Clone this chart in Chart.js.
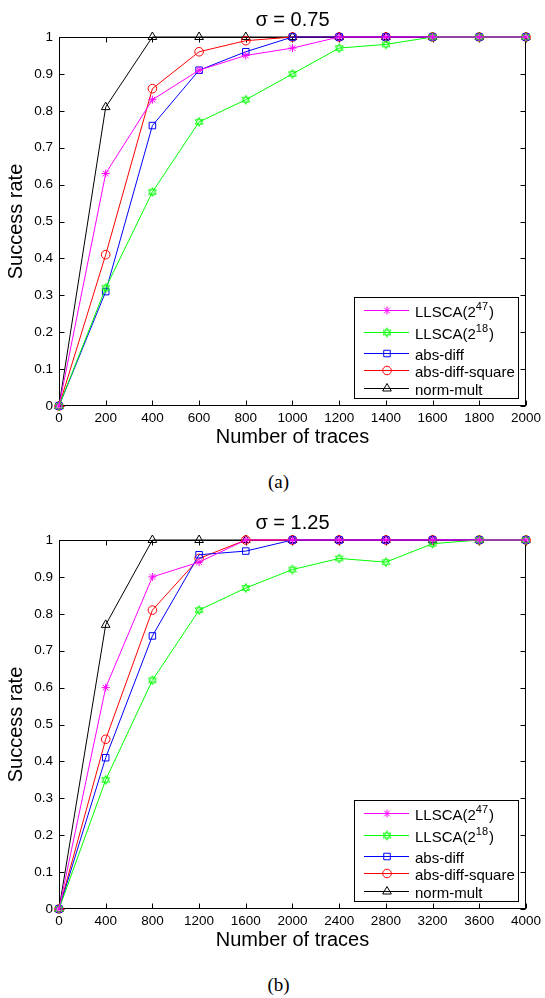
<!DOCTYPE html>
<html lang="en">
<head>
<meta charset="UTF-8">
<title>Success rate vs number of traces</title>
<script src="https://cdn.jsdelivr.net/npm/chart.js"></script>
<style>
  body { margin: 0; background: #fff; width: 545px; height: 998px; position: relative; overflow: hidden; }
  .panel { position: absolute; left: 0; }
  .caption { position: absolute; left: 6px; width: 545px; text-align: center;
             font-family: "Liberation Serif", "Times New Roman", serif; font-size: 19px; line-height: 22px; }
</style>
</head>
<body>

<canvas id="chartA" class="panel" width="545" height="453" style="top:0px"></canvas>
<div class="caption" style="top:471px">(a)</div>
<canvas id="chartB" class="panel" width="545" height="453" style="top:503px"></canvas>
<div class="caption" style="top:974px">(b)</div>

<script>
// ---- data ----
const seriesNames = ['LLSCA(2^47)', 'LLSCA(2^18)', 'abs-diff', 'abs-diff-square', 'norm-mult'];

// (a) sigma = 0.75
const tracesA      = [0, 200, 400, 600, 800, 1000, 1200, 1400, 1600, 1800, 2000];
const llsca47A     = [0, 0.63, 0.83, 0.91, 0.95, 0.97, 1, 1, 1, 1, 1];
const llsca18A     = [0, 0.32, 0.58, 0.77, 0.83, 0.90, 0.97, 0.98, 1, 1, 1];
const absDiffA     = [0, 0.31, 0.76, 0.91, 0.96, 1, 1, 1, 1, 1, 1];
const absDiffSqA   = [0, 0.41, 0.86, 0.96, 0.99, 1, 1, 1, 1, 1, 1];
const normMultA    = [0, 0.81, 1, 1, 1, 1, 1, 1, 1, 1, 1];

// (b) sigma = 1.25
const tracesB      = [0, 400, 800, 1200, 1600, 2000, 2400, 2800, 3200, 3600, 4000];
const llsca47B     = [0, 0.60, 0.90, 0.94, 1, 1, 1, 1, 1, 1, 1];
const llsca18B     = [0, 0.35, 0.62, 0.81, 0.87, 0.92, 0.95, 0.94, 0.99, 1, 1];
const absDiffB     = [0, 0.41, 0.74, 0.96, 0.97, 1, 1, 1, 1, 1, 1];
const absDiffSqB   = [0, 0.46, 0.81, 0.95, 1, 1, 1, 1, 1, 1, 1];
const normMultB    = [0, 0.77, 1, 1, 1, 1, 1, 1, 1, 1, 1];

const yTicks = [0, 0.1, 0.2, 0.3, 0.4, 0.5, 0.6, 0.7, 0.8, 0.9, 1];

// ---- styles ----
const seriesColors = ['#ff00ff', '#00ff00', '#0000ff', '#ff0000', '#000000'];

function hexagram(color, r) {
    const c = document.createElement('canvas');
    const s = Math.ceil(2 * r + 3);
    c.width = s; c.height = s;
    const g = c.getContext('2d');
    g.strokeStyle = color;
    g.lineWidth = 0.9;
    const cx = s / 2, cy = s / 2;
    [-Math.PI / 2, Math.PI / 2].forEach(a0 => {
        g.beginPath();
        for (let k = 0; k < 3; k++) {
            const a = a0 + k * 2 * Math.PI / 3;
            const px = cx + r * Math.cos(a), py = cy + r * Math.sin(a);
            if (k === 0) g.moveTo(px, py); else g.lineTo(px, py);
        }
        g.closePath();
        g.stroke();
    });
    return c;
}

const seriesMarkers = [
    { style: 'star', radius: 4 },
    { style: hexagram('#00ff00', 4.5), radius: 5 },
    { style: 'rect', radius: 4.6 },
    { style: 'circle', radius: 4.3 },
    { style: 'triangle', radius: 5 }
];

Chart.defaults.font.family = '"Liberation Sans", Arial, sans-serif';
Chart.defaults.color = '#000';

// axes box with inward tick marks on all four sides (matlab look)
const framePlugin = {
    id: 'frame',
    beforeDatasetsDraw(chart) {
        const { ctx, chartArea: a, scales: { x, y } } = chart;
        const L = Math.round(a.left) + 0.5, R = Math.round(a.right) - 0.5;
        const T = Math.round(a.top) + 0.5, B = Math.round(a.bottom) - 0.5;
        ctx.save();
        ctx.strokeStyle = '#000';
        ctx.lineWidth = 1;
        ctx.beginPath();
        x.ticks.forEach(t => {
            const px = Math.round(x.getPixelForValue(t.value)) + 0.5;
            ctx.moveTo(px, B); ctx.lineTo(px, B - 5);
            ctx.moveTo(px, T); ctx.lineTo(px, T + 5);
        });
        y.ticks.forEach(t => {
            const py = Math.round(y.getPixelForValue(t.value)) + 0.5;
            ctx.moveTo(L, py); ctx.lineTo(L + 5, py);
            ctx.moveTo(R, py); ctx.lineTo(R - 5, py);
        });
        ctx.stroke();
        ctx.strokeRect(L, T, R - L, B - T);
        ctx.restore();
    }
};

// legend box in the lower right corner
const legendPlugin = {
    id: 'matLegend',
    afterDatasetsDraw(chart) {
        const { ctx, chartArea: a } = chart;
        const w = 164, h = 101;
        const right = Math.round(a.right) - 8, bottom = Math.round(a.bottom) - 8;
        const left = right - w, top = bottom - h;
        const rows = [13, 35, 56, 73, 91];
        const font = '15px "Liberation Sans", Arial, sans-serif';
        ctx.save();
        ctx.fillStyle = '#fff';
        ctx.fillRect(left, top, w, h);
        ctx.strokeStyle = '#000';
        ctx.lineWidth = 1;
        ctx.strokeRect(left + 0.5, top + 0.5, w, h);
        chart.data.datasets.forEach((ds, i) => {
            const yy = top + rows[i] + 0.5;
            ctx.strokeStyle = ds.borderColor;
            ctx.beginPath();
            ctx.moveTo(left + 10, yy);
            ctx.lineTo(left + 55, yy);
            ctx.stroke();
            ctx.fillStyle = 'rgba(0,0,0,0)';
            Chart.helpers.drawPoint(ctx, {
                pointStyle: ds.pointStyle, radius: ds.pointRadius, rotation: 0, borderWidth: 1
            }, left + 33, yy);
            // label, with "^" for superscript
            const parts = seriesNames[i].match(/^([^\^]*)(?:\^(\d+))?(.*)$/);
            ctx.fillStyle = '#000';
            ctx.textBaseline = 'middle';
            ctx.textAlign = 'left';
            let tx = left + 61;
            ctx.font = font;
            ctx.fillText(parts[1], tx, yy + 2);
            tx += ctx.measureText(parts[1]).width;
            if (parts[2]) {
                ctx.font = '11px "Liberation Sans", Arial, sans-serif';
                ctx.fillText(parts[2], tx, yy - 4);
                tx += ctx.measureText(parts[2]).width + 1;
                ctx.font = font;
                ctx.fillText(parts[3], tx, yy + 2);
            }
        });
        ctx.restore();
    }
};

function makePanel(id, titleText, xs, ysList, xStep) {
    const datasets = ysList.map((ys, i) => ({
        label: seriesNames[i],
        data: xs.map((x, k) => ({ x: x, y: ys[k] })),
        borderColor: seriesColors[i],
        backgroundColor: 'rgba(0,0,0,0)',
        borderWidth: 1,
        pointStyle: seriesMarkers[i].style,
        pointRadius: seriesMarkers[i].radius,
        pointHoverRadius: seriesMarkers[i].radius,
        pointBorderColor: seriesColors[i],
        pointBackgroundColor: 'rgba(0,0,0,0)',
        pointBorderWidth: 1,
        tension: 0,
        clip: false
    }));

    return new Chart(document.getElementById(id), {
        type: 'line',
        data: { datasets: datasets },
        options: {
            responsive: false,
            animation: false,
            devicePixelRatio: 1,
            layout: { padding: { left: 0, right: 16, top: 0, bottom: 0 } },
            plugins: {
                legend: { display: false },
                tooltip: { enabled: false },
                title: {
                    display: true,
                    text: titleText,
                    fullSize: false,
                    color: '#000',
                    font: { size: 20, weight: 'normal' },
                    padding: { top: 8, bottom: 5 }
                }
            },
            scales: {
                x: {
                    type: 'linear',
                    min: xs[0],
                    max: xs[xs.length - 1],
                    grid: { display: false, drawTicks: false },
                    border: { display: false },
                    ticks: {
                        stepSize: xStep,
                        autoSkip: false,
                        maxRotation: 0,
                        padding: 4,
                        color: '#000',
                        font: { size: 13.5 },
                        callback: v => String(v)
                    },
                    title: {
                        display: true,
                        text: 'Number of traces',
                        color: '#000',
                        font: { size: 20 },
                        padding: { top: 0, bottom: 4 }
                    },
                    afterFit: s => { s.height = 47; }
                },
                y: {
                    type: 'linear',
                    min: 0,
                    max: 1,
                    grid: { display: false, drawTicks: false },
                    border: { display: false },
                    afterBuildTicks: s => { s.ticks = yTicks.map(v => ({ value: v })); },
                    ticks: {
                        padding: 6,
                        color: '#000',
                        font: { size: 13.5 },
                        callback: v => String(+v.toFixed(1))
                    },
                    title: {
                        display: true,
                        text: 'Success rate',
                        color: '#000',
                        font: { size: 20 },
                        padding: { top: 4, bottom: 0 }
                    },
                    afterFit: s => { s.width = 59; }
                }
            }
        },
        plugins: [framePlugin, legendPlugin]
    });
}

makePanel('chartA', 'σ = 0.75', tracesA,
    [llsca47A, llsca18A, absDiffA, absDiffSqA, normMultA], 200);
makePanel('chartB', 'σ = 1.25', tracesB,
    [llsca47B, llsca18B, absDiffB, absDiffSqB, normMultB], 400);
</script>
</body>
</html>
